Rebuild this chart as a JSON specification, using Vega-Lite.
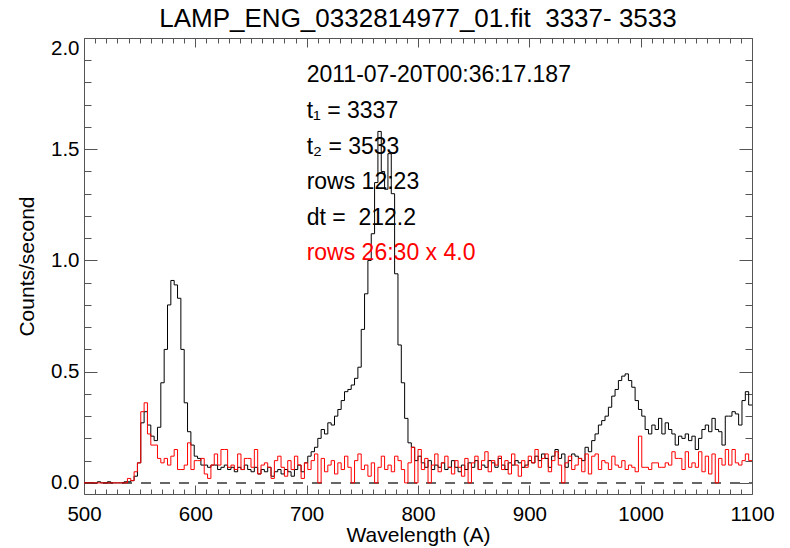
{
  "$schema": "https://vega.github.io/schema/vega-lite/v6.json",
  "width": 668,
  "height": 456,
  "autosize": {"type": "none"},
  "padding": {"left": 84, "top": 38, "right": 38, "bottom": 54},
  "background": "white",
  "config": {
    "font": "Liberation Sans",
    "view": {"stroke": "#555", "strokeWidth": 1},
    "axis": {"grid": false, "domain": false, "labelColor": "#000", "titleColor": "#000", "titleFontWeight": "normal"}
  },
  "title": {"text": "LAMP_ENG_0332814977_01.fit \u00a03337- 3533", "fontSize": 26, "fontWeight": "normal", "offset": 6, "anchor": "middle", "frame": "group", "color": "#000"},
  "datasets": {
    "spectra": [
      {"wavelength": 500, "rows12_23": 0, "rows26_30x4": 0},
      {"wavelength": 503, "rows12_23": 0, "rows26_30x4": 0},
      {"wavelength": 506, "rows12_23": 0, "rows26_30x4": 0},
      {"wavelength": 509, "rows12_23": 0, "rows26_30x4": 0},
      {"wavelength": 512, "rows12_23": 0.005, "rows26_30x4": 0},
      {"wavelength": 515, "rows12_23": 0, "rows26_30x4": 0},
      {"wavelength": 518, "rows12_23": 0, "rows26_30x4": 0},
      {"wavelength": 521, "rows12_23": 0.005, "rows26_30x4": 0},
      {"wavelength": 524, "rows12_23": 0, "rows26_30x4": 0},
      {"wavelength": 527, "rows12_23": 0, "rows26_30x4": 0},
      {"wavelength": 530, "rows12_23": 0, "rows26_30x4": 0},
      {"wavelength": 533, "rows12_23": 0, "rows26_30x4": 0},
      {"wavelength": 536, "rows12_23": 0.005, "rows26_30x4": 0},
      {"wavelength": 539, "rows12_23": 0.005, "rows26_30x4": 0.02},
      {"wavelength": 542, "rows12_23": 0.01, "rows26_30x4": 0.01},
      {"wavelength": 545, "rows12_23": 0.03, "rows26_30x4": 0.05},
      {"wavelength": 548, "rows12_23": 0.09, "rows26_30x4": 0.09},
      {"wavelength": 551, "rows12_23": 0.27, "rows26_30x4": 0.32},
      {"wavelength": 554, "rows12_23": 0.32, "rows26_30x4": 0.36},
      {"wavelength": 557, "rows12_23": 0.26, "rows26_30x4": 0.22},
      {"wavelength": 560, "rows12_23": 0.21, "rows26_30x4": 0.17},
      {"wavelength": 563, "rows12_23": 0.19, "rows26_30x4": 0.17},
      {"wavelength": 566, "rows12_23": 0.25, "rows26_30x4": 0.11},
      {"wavelength": 569, "rows12_23": 0.45, "rows26_30x4": 0.09},
      {"wavelength": 572, "rows12_23": 0.6, "rows26_30x4": 0.11},
      {"wavelength": 575, "rows12_23": 0.8, "rows26_30x4": 0.08},
      {"wavelength": 578, "rows12_23": 0.91, "rows26_30x4": 0.12},
      {"wavelength": 581, "rows12_23": 0.89, "rows26_30x4": 0.15},
      {"wavelength": 584, "rows12_23": 0.83, "rows26_30x4": 0.06},
      {"wavelength": 587, "rows12_23": 0.6, "rows26_30x4": 0.06},
      {"wavelength": 590, "rows12_23": 0.36, "rows26_30x4": 0.08},
      {"wavelength": 593, "rows12_23": 0.23, "rows26_30x4": 0.18},
      {"wavelength": 596, "rows12_23": 0.17, "rows26_30x4": 0.06},
      {"wavelength": 599, "rows12_23": 0.12, "rows26_30x4": 0.1},
      {"wavelength": 602, "rows12_23": 0.11, "rows26_30x4": 0.1},
      {"wavelength": 605, "rows12_23": 0.08, "rows26_30x4": 0.11},
      {"wavelength": 608, "rows12_23": 0.08, "rows26_30x4": 0.04},
      {"wavelength": 611, "rows12_23": 0.07, "rows26_30x4": 0.02},
      {"wavelength": 614, "rows12_23": 0.08, "rows26_30x4": 0.08},
      {"wavelength": 617, "rows12_23": 0.08, "rows26_30x4": 0.13},
      {"wavelength": 620, "rows12_23": 0.06, "rows26_30x4": 0.08},
      {"wavelength": 623, "rows12_23": 0.07, "rows26_30x4": 0.15},
      {"wavelength": 626, "rows12_23": 0.08, "rows26_30x4": 0.15},
      {"wavelength": 629, "rows12_23": 0.06, "rows26_30x4": 0.07},
      {"wavelength": 632, "rows12_23": 0.07, "rows26_30x4": 0.08},
      {"wavelength": 635, "rows12_23": 0.05, "rows26_30x4": 0.06},
      {"wavelength": 638, "rows12_23": 0.07, "rows26_30x4": 0.13},
      {"wavelength": 641, "rows12_23": 0.06, "rows26_30x4": 0.06},
      {"wavelength": 644, "rows12_23": 0.08, "rows26_30x4": 0.11},
      {"wavelength": 647, "rows12_23": 0.06, "rows26_30x4": 0.11},
      {"wavelength": 650, "rows12_23": 0.05, "rows26_30x4": 0.07},
      {"wavelength": 653, "rows12_23": 0.07, "rows26_30x4": 0.15},
      {"wavelength": 656, "rows12_23": 0.04, "rows26_30x4": 0.04},
      {"wavelength": 659, "rows12_23": 0.06, "rows26_30x4": 0.08},
      {"wavelength": 662, "rows12_23": 0.05, "rows26_30x4": 0.09},
      {"wavelength": 665, "rows12_23": 0.07, "rows26_30x4": 0.07},
      {"wavelength": 668, "rows12_23": 0.03, "rows26_30x4": 0.02},
      {"wavelength": 671, "rows12_23": 0.05, "rows26_30x4": 0.1},
      {"wavelength": 674, "rows12_23": 0.06, "rows26_30x4": 0.12},
      {"wavelength": 677, "rows12_23": 0.04, "rows26_30x4": 0.07},
      {"wavelength": 680, "rows12_23": 0.06, "rows26_30x4": 0.03},
      {"wavelength": 683, "rows12_23": 0.05, "rows26_30x4": 0.1},
      {"wavelength": 686, "rows12_23": 0.03, "rows26_30x4": 0.06},
      {"wavelength": 689, "rows12_23": 0.06, "rows26_30x4": 0.12},
      {"wavelength": 692, "rows12_23": 0.08, "rows26_30x4": 0.08},
      {"wavelength": 695, "rows12_23": 0.05, "rows26_30x4": 0.02},
      {"wavelength": 698, "rows12_23": 0.09, "rows26_30x4": 0.09},
      {"wavelength": 701, "rows12_23": 0.12, "rows26_30x4": 0.06},
      {"wavelength": 704, "rows12_23": 0.14, "rows26_30x4": 0.1},
      {"wavelength": 707, "rows12_23": 0.16, "rows26_30x4": 0.13},
      {"wavelength": 710, "rows12_23": 0.2, "rows26_30x4": 0},
      {"wavelength": 713, "rows12_23": 0.24, "rows26_30x4": 0.11},
      {"wavelength": 716, "rows12_23": 0.22, "rows26_30x4": 0.05},
      {"wavelength": 719, "rows12_23": 0.27, "rows26_30x4": 0.08},
      {"wavelength": 722, "rows12_23": 0.26, "rows26_30x4": 0.1},
      {"wavelength": 725, "rows12_23": 0.3, "rows26_30x4": 0.04},
      {"wavelength": 728, "rows12_23": 0.33, "rows26_30x4": 0.09},
      {"wavelength": 731, "rows12_23": 0.37, "rows26_30x4": 0.06},
      {"wavelength": 734, "rows12_23": 0.41, "rows26_30x4": 0.12},
      {"wavelength": 737, "rows12_23": 0.42, "rows26_30x4": 0.07},
      {"wavelength": 740, "rows12_23": 0.44, "rows26_30x4": 0},
      {"wavelength": 743, "rows12_23": 0.47, "rows26_30x4": 0.1},
      {"wavelength": 746, "rows12_23": 0.52, "rows26_30x4": 0.13},
      {"wavelength": 749, "rows12_23": 0.69, "rows26_30x4": 0.06},
      {"wavelength": 752, "rows12_23": 0.85, "rows26_30x4": 0.08},
      {"wavelength": 755, "rows12_23": 1.0, "rows26_30x4": 0.03},
      {"wavelength": 758, "rows12_23": 1.12, "rows26_30x4": 0.09},
      {"wavelength": 761, "rows12_23": 1.35, "rows26_30x4": 0},
      {"wavelength": 764, "rows12_23": 1.58, "rows26_30x4": 0.07},
      {"wavelength": 767, "rows12_23": 1.4, "rows26_30x4": 0.12},
      {"wavelength": 770, "rows12_23": 1.32, "rows26_30x4": 0.06},
      {"wavelength": 773, "rows12_23": 1.48, "rows26_30x4": 0.08},
      {"wavelength": 776, "rows12_23": 1.3, "rows26_30x4": 0.05},
      {"wavelength": 779, "rows12_23": 0.94, "rows26_30x4": 0.12},
      {"wavelength": 782, "rows12_23": 0.62, "rows26_30x4": 0.1},
      {"wavelength": 785, "rows12_23": 0.45, "rows26_30x4": 0.06},
      {"wavelength": 788, "rows12_23": 0.29, "rows26_30x4": 0},
      {"wavelength": 791, "rows12_23": 0.18, "rows26_30x4": 0.09},
      {"wavelength": 794, "rows12_23": 0.16, "rows26_30x4": 0.16},
      {"wavelength": 797, "rows12_23": 0.1, "rows26_30x4": 0},
      {"wavelength": 800, "rows12_23": 0.12, "rows26_30x4": 0.15},
      {"wavelength": 803, "rows12_23": 0.09, "rows26_30x4": 0.06},
      {"wavelength": 806, "rows12_23": 0.07, "rows26_30x4": 0.11},
      {"wavelength": 809, "rows12_23": 0.1, "rows26_30x4": 0},
      {"wavelength": 812, "rows12_23": 0.06, "rows26_30x4": 0.08},
      {"wavelength": 815, "rows12_23": 0.08, "rows26_30x4": 0.13},
      {"wavelength": 818, "rows12_23": 0.07, "rows26_30x4": 0.05},
      {"wavelength": 821, "rows12_23": 0.09, "rows26_30x4": 0.09},
      {"wavelength": 824, "rows12_23": 0.06, "rows26_30x4": 0.12},
      {"wavelength": 827, "rows12_23": 0.07, "rows26_30x4": 0.07},
      {"wavelength": 830, "rows12_23": 0.1, "rows26_30x4": 0.04},
      {"wavelength": 833, "rows12_23": 0.07, "rows26_30x4": 0.1},
      {"wavelength": 836, "rows12_23": 0.05, "rows26_30x4": 0.07},
      {"wavelength": 839, "rows12_23": 0.08, "rows26_30x4": 0.03},
      {"wavelength": 842, "rows12_23": 0.06, "rows26_30x4": 0.11},
      {"wavelength": 845, "rows12_23": 0.09, "rows26_30x4": 0},
      {"wavelength": 848, "rows12_23": 0.07, "rows26_30x4": 0.09},
      {"wavelength": 851, "rows12_23": 0.1, "rows26_30x4": 0.12},
      {"wavelength": 854, "rows12_23": 0.06, "rows26_30x4": 0.06},
      {"wavelength": 857, "rows12_23": 0.08, "rows26_30x4": 0.1},
      {"wavelength": 860, "rows12_23": 0.07, "rows26_30x4": 0.14},
      {"wavelength": 863, "rows12_23": 0.1, "rows26_30x4": 0.05},
      {"wavelength": 866, "rows12_23": 0.09, "rows26_30x4": 0.1},
      {"wavelength": 869, "rows12_23": 0.07, "rows26_30x4": 0.08},
      {"wavelength": 872, "rows12_23": 0.11, "rows26_30x4": 0.12},
      {"wavelength": 875, "rows12_23": 0.08, "rows26_30x4": 0.06},
      {"wavelength": 878, "rows12_23": 0.06, "rows26_30x4": 0.1},
      {"wavelength": 881, "rows12_23": 0.09, "rows26_30x4": 0.04},
      {"wavelength": 884, "rows12_23": 0.08, "rows26_30x4": 0.13},
      {"wavelength": 887, "rows12_23": 0.1, "rows26_30x4": 0.08},
      {"wavelength": 890, "rows12_23": 0.09, "rows26_30x4": 0.03},
      {"wavelength": 893, "rows12_23": 0.07, "rows26_30x4": 0.1},
      {"wavelength": 896, "rows12_23": 0.08, "rows26_30x4": 0.07},
      {"wavelength": 899, "rows12_23": 0.1, "rows26_30x4": 0.12},
      {"wavelength": 902, "rows12_23": 0.09, "rows26_30x4": 0.09},
      {"wavelength": 905, "rows12_23": 0.12, "rows26_30x4": 0.15},
      {"wavelength": 908, "rows12_23": 0.1, "rows26_30x4": 0.07},
      {"wavelength": 911, "rows12_23": 0.13, "rows26_30x4": 0.11},
      {"wavelength": 914, "rows12_23": 0.11, "rows26_30x4": 0.13},
      {"wavelength": 917, "rows12_23": 0.07, "rows26_30x4": 0.05},
      {"wavelength": 920, "rows12_23": 0.12, "rows26_30x4": 0.1},
      {"wavelength": 923, "rows12_23": 0.15, "rows26_30x4": 0.14},
      {"wavelength": 926, "rows12_23": 0.11, "rows26_30x4": 0.08},
      {"wavelength": 929, "rows12_23": 0.13, "rows26_30x4": 0},
      {"wavelength": 932, "rows12_23": 0.07, "rows26_30x4": 0.09},
      {"wavelength": 935, "rows12_23": 0.1, "rows26_30x4": 0.12},
      {"wavelength": 938, "rows12_23": 0.13, "rows26_30x4": 0.06},
      {"wavelength": 941, "rows12_23": 0.12, "rows26_30x4": 0.08},
      {"wavelength": 944, "rows12_23": 0.11, "rows26_30x4": 0.11},
      {"wavelength": 947, "rows12_23": 0.1, "rows26_30x4": 0.05},
      {"wavelength": 950, "rows12_23": 0.16, "rows26_30x4": 0.13},
      {"wavelength": 953, "rows12_23": 0.14, "rows26_30x4": 0.04},
      {"wavelength": 956, "rows12_23": 0.19, "rows26_30x4": 0.12},
      {"wavelength": 959, "rows12_23": 0.22, "rows26_30x4": 0.13},
      {"wavelength": 962, "rows12_23": 0.26, "rows26_30x4": 0.06},
      {"wavelength": 965, "rows12_23": 0.28, "rows26_30x4": 0.1},
      {"wavelength": 968, "rows12_23": 0.3, "rows26_30x4": 0.09},
      {"wavelength": 971, "rows12_23": 0.34, "rows26_30x4": 0.06},
      {"wavelength": 974, "rows12_23": 0.39, "rows26_30x4": 0.12},
      {"wavelength": 977, "rows12_23": 0.42, "rows26_30x4": 0.08},
      {"wavelength": 980, "rows12_23": 0.46, "rows26_30x4": 0.07},
      {"wavelength": 983, "rows12_23": 0.48, "rows26_30x4": 0.1},
      {"wavelength": 986, "rows12_23": 0.49, "rows26_30x4": 0.06},
      {"wavelength": 989, "rows12_23": 0.46, "rows26_30x4": 0.08},
      {"wavelength": 992, "rows12_23": 0.43, "rows26_30x4": 0.07},
      {"wavelength": 995, "rows12_23": 0.37, "rows26_30x4": 0.05},
      {"wavelength": 998, "rows12_23": 0.33, "rows26_30x4": 0.21},
      {"wavelength": 1001, "rows12_23": 0.3, "rows26_30x4": 0.07},
      {"wavelength": 1004, "rows12_23": 0.24, "rows26_30x4": 0.07},
      {"wavelength": 1007, "rows12_23": 0.22, "rows26_30x4": 0.06},
      {"wavelength": 1010, "rows12_23": 0.26, "rows26_30x4": 0.09},
      {"wavelength": 1013, "rows12_23": 0.24, "rows26_30x4": 0.09},
      {"wavelength": 1016, "rows12_23": 0.29, "rows26_30x4": 0.07},
      {"wavelength": 1019, "rows12_23": 0.22, "rows26_30x4": 0.07},
      {"wavelength": 1022, "rows12_23": 0.27, "rows26_30x4": 0.09},
      {"wavelength": 1025, "rows12_23": 0.24, "rows26_30x4": 0.08},
      {"wavelength": 1028, "rows12_23": 0.22, "rows26_30x4": 0.14},
      {"wavelength": 1031, "rows12_23": 0.17, "rows26_30x4": 0.11},
      {"wavelength": 1034, "rows12_23": 0.21, "rows26_30x4": 0.11},
      {"wavelength": 1037, "rows12_23": 0.2, "rows26_30x4": 0.06},
      {"wavelength": 1040, "rows12_23": 0.22, "rows26_30x4": 0.14},
      {"wavelength": 1043, "rows12_23": 0.19, "rows26_30x4": 0.07},
      {"wavelength": 1046, "rows12_23": 0.21, "rows26_30x4": 0.09},
      {"wavelength": 1049, "rows12_23": 0.15, "rows26_30x4": 0.07},
      {"wavelength": 1052, "rows12_23": 0.2, "rows26_30x4": 0.14},
      {"wavelength": 1055, "rows12_23": 0.24, "rows26_30x4": 0.05},
      {"wavelength": 1058, "rows12_23": 0.26, "rows26_30x4": 0.12},
      {"wavelength": 1061, "rows12_23": 0.23, "rows26_30x4": 0.04},
      {"wavelength": 1064, "rows12_23": 0.29, "rows26_30x4": 0.13},
      {"wavelength": 1067, "rows12_23": 0.24, "rows26_30x4": 0},
      {"wavelength": 1070, "rows12_23": 0.23, "rows26_30x4": 0.11},
      {"wavelength": 1073, "rows12_23": 0.17, "rows26_30x4": 0.08},
      {"wavelength": 1076, "rows12_23": 0.3, "rows26_30x4": 0.15},
      {"wavelength": 1079, "rows12_23": 0.3, "rows26_30x4": 0.08},
      {"wavelength": 1082, "rows12_23": 0.32, "rows26_30x4": 0.15},
      {"wavelength": 1085, "rows12_23": 0.31, "rows26_30x4": 0.09},
      {"wavelength": 1088, "rows12_23": 0.26, "rows26_30x4": 0.08},
      {"wavelength": 1091, "rows12_23": 0.37, "rows26_30x4": 0.1},
      {"wavelength": 1094, "rows12_23": 0.41, "rows26_30x4": 0.13},
      {"wavelength": 1097, "rows12_23": 0.35, "rows26_30x4": 0.1},
      {"wavelength": 1100, "rows12_23": 0.35, "rows26_30x4": 0.1}
    ],
    "notes": [
      {"label": "2011-07-20T00:36:17.187", "x": 700, "y": 1.8, "group": "rows 12:23"},
      {"label": "t₁ = 3337", "x": 700, "y": 1.64, "group": "rows 12:23"},
      {"label": "t₂ = 3533", "x": 700, "y": 1.48, "group": "rows 12:23"},
      {"label": "rows 12:23", "x": 700, "y": 1.32, "group": "rows 12:23"},
      {"label": "dt = \u00a0212.2", "x": 700, "y": 1.16, "group": "rows 12:23"},
      {"label": "rows 26:30 x 4.0", "x": 700, "y": 1.0, "group": "rows 26:30"}
    ]
  },
  "layer": [
    {
      "data": {"name": "spectra"},
      "mark": {"type": "line", "color": "#666", "strokeWidth": 2, "strokeDash": [10, 9]},
      "encoding": {
        "x": {"field": "wavelength", "type": "quantitative", "scale": {"domain": [500, 1100], "nice": false, "zero": false},
              "axis": {"orient": "top", "values": [510,520,530,540,550,560,570,580,590,610,620,630,640,650,660,670,680,690,710,720,730,740,750,760,770,780,790,810,820,830,840,850,860,870,880,890,910,920,930,940,950,960,970,980,990,1010,1020,1030,1040,1050,1060,1070,1080,1090], "labels": false, "ticks": true, "tickSize": -5, "tickColor": "#555", "domain": false, "title": null}},
        "y": {"datum": 0, "type": "quantitative", "scale": {"domain": [-0.05, 2.0], "nice": false, "zero": false},
              "axis": {"orient": "right", "values": [0.1,0.2,0.3,0.4,0.6,0.7,0.8,0.9,1.1,1.2,1.3,1.4,1.6,1.7,1.8,1.9], "labels": false, "ticks": true, "tickSize": -7, "tickColor": "#555", "domain": false, "title": null}}
      }
    },
    {
      "data": {"name": "spectra"},
      "mark": {"type": "line", "interpolate": "step-after", "color": "#000", "strokeWidth": 1},
      "encoding": {
        "x": {"field": "wavelength", "type": "quantitative", "scale": {"domain": [500, 1100], "nice": false, "zero": false},
              "axis": {"orient": "bottom", "values": [500,600,700,800,900,1000,1100], "format": "d", "ticks": false, "domain": false, "labelPadding": 10, "labelFontSize": 20.5, "labelFlush": false, "labelOverlap": false, "title": "Wavelength (A)", "titleFontSize": 21, "titlePadding": 0}},
        "y": {"field": "rows12_23", "type": "quantitative", "scale": {"domain": [-0.05, 2.0], "nice": false, "zero": false},
              "axis": {"orient": "left", "values": [0, 0.5, 1.0, 1.5, 2.0], "format": ".1f", "ticks": false, "domain": false, "labelPadding": 5, "labelFontSize": 20.5, "labelFlush": true, "labelOverlap": false, "title": "Counts/second", "titleFontSize": 21, "titlePadding": 13}}
      }
    },
    {
      "data": {"name": "spectra"},
      "mark": {"type": "line", "interpolate": "step-after", "color": "#ff0000", "strokeWidth": 1},
      "encoding": {
        "x": {"field": "wavelength", "type": "quantitative", "scale": {"domain": [500, 1100], "nice": false, "zero": false},
              "axis": {"orient": "bottom", "values": [500,600,700,800,900,1000,1100], "labels": false, "ticks": true, "tickSize": -9, "tickColor": "#555", "domain": false, "title": null}},
        "y": {"field": "rows26_30x4", "type": "quantitative", "scale": {"domain": [-0.05, 2.0], "nice": false, "zero": false},
              "axis": {"orient": "left", "values": [0, 0.5, 1.0, 1.5, 2.0], "labels": false, "ticks": true, "tickSize": -13, "tickColor": "#555", "domain": false, "title": null}}
      }
    },
    {
      "data": {"name": "notes"},
      "transform": [{"filter": "datum.group === 'rows 12:23'"}],
      "mark": {"type": "text", "align": "left", "baseline": "alphabetic", "fontSize": 23, "color": "#000"},
      "encoding": {
        "text": {"field": "label"},
        "x": {"field": "x", "type": "quantitative", "scale": {"domain": [500, 1100], "nice": false, "zero": false},
              "axis": {"orient": "bottom", "values": [510,520,530,540,550,560,570,580,590,610,620,630,640,650,660,670,680,690,710,720,730,740,750,760,770,780,790,810,820,830,840,850,860,870,880,890,910,920,930,940,950,960,970,980,990,1010,1020,1030,1040,1050,1060,1070,1080,1090], "labels": false, "ticks": true, "tickSize": -5, "tickColor": "#555", "domain": false, "title": null}},
        "y": {"field": "y", "type": "quantitative", "scale": {"domain": [-0.05, 2.0], "nice": false, "zero": false},
              "axis": {"orient": "left", "values": [0.1,0.2,0.3,0.4,0.6,0.7,0.8,0.9,1.1,1.2,1.3,1.4,1.6,1.7,1.8,1.9], "labels": false, "ticks": true, "tickSize": -7, "tickColor": "#555", "domain": false, "title": null}}
      }
    },
    {
      "data": {"name": "notes"},
      "transform": [{"filter": "datum.group === 'rows 26:30'"}],
      "mark": {"type": "text", "align": "left", "baseline": "alphabetic", "fontSize": 23, "color": "#ff0000"},
      "encoding": {
        "text": {"field": "label"},
        "x": {"field": "x", "type": "quantitative", "scale": {"domain": [500, 1100], "nice": false, "zero": false},
              "axis": {"orient": "top", "values": [500,600,700,800,900,1000,1100], "labels": false, "ticks": true, "tickSize": -9, "tickColor": "#555", "domain": false, "title": null}},
        "y": {"field": "y", "type": "quantitative", "scale": {"domain": [-0.05, 2.0], "nice": false, "zero": false},
              "axis": {"orient": "right", "values": [0, 0.5, 1.0, 1.5, 2.0], "labels": false, "ticks": true, "tickSize": -13, "tickColor": "#555", "domain": false, "title": null}}
      }
    }
  ],
  "resolve": {"axis": {"x": "independent", "y": "independent"}}
}
